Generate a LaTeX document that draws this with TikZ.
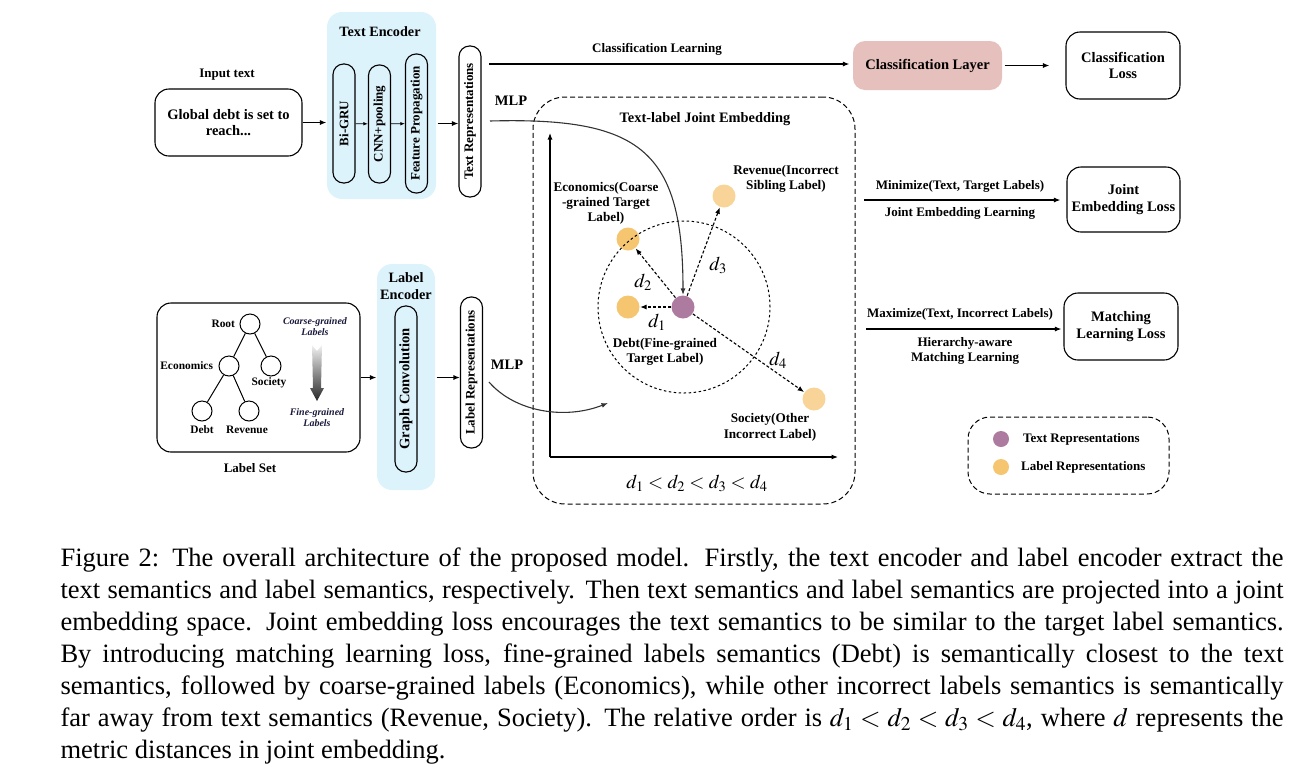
\RequirePackage{fix-cm}
\documentclass[tikz,border=0pt]{standalone}
\usepackage{mathptmx}
\usepackage{fontspec}
\setmainfont{Liberation Serif}
\usepackage{amsmath}
\usepackage{graphicx}
\usepackage{xcolor}
\usetikzlibrary{arrows.meta}
\usetikzlibrary{positioning}
\usetikzlibrary{calc}

\definecolor{encblue}{RGB}{221,243,251}
\definecolor{clspink}{RGB}{230,192,188}
\definecolor{txtpurple}{RGB}{173,122,160}
\definecolor{lblorange}{RGB}{245,197,112}
\definecolor{lbllight}{RGB}{249,212,152}
\definecolor{hintnavy}{RGB}{25,25,60}

\newcommand{\fs}[2]{\fontsize{#1}{#2}\selectfont}

\tikzstyle{box} = [draw, rounded corners=14pt, align=center, inner sep=2pt,
  font=\bfseries\fs{14.5}{16.5}]
\tikzstyle{pill} = [draw, rounded corners=10.5pt, minimum width=22pt,
  inner sep=0pt, font=\bfseries\fs{13}{15}]
\tikzstyle{encbg} = [fill=encblue, rounded corners=15pt, inner sep=0pt]
\tikzstyle{txt} = [align=center, inner sep=1pt, font=\bfseries\fs{13}{15}]
\tikzstyle{bigtxt} = [align=center, inner sep=1pt, font=\bfseries\fs{14.5}{17}]
\tikzstyle{treetxt} = [inner sep=1pt, font=\bfseries\fs{11.4}{13}]
\tikzstyle{hint} = [align=center, inner sep=0pt, text=hintnavy,
  font=\bfseries\itshape\fs{10}{11}]
\tikzstyle{leaf} = [circle, draw, line width=1pt, minimum size=20pt, inner sep=0pt]
\tikzstyle{dot} = [circle, minimum size=23pt, inner sep=0pt]
\tikzstyle{dlbl} = [inner sep=0pt, font=\fs{19.5}{21}]
\tikzstyle{dist} = [->, dash pattern=on 3pt off 2pt, line width=1.1pt]
\tikzstyle{frame} = [draw, dash pattern=on 5pt off 3pt, line width=1pt, inner sep=0pt]

\begin{document}
\begin{tikzpicture}[x=1pt, y=-1pt, >={Latex[length=6.5pt,width=5pt]}, line width=1.1pt]
  \useasboundingbox (0,0) rectangle (1315,772);

  % input text
  \node[txt]                                                (inlabel) at (227,75) {Input text};
  \node[box, minimum width=147pt, minimum height=67pt]      (input) at (228.5,122.5) {Global debt is set to\\reach...};
  % text encoder
  \node[encbg, minimum width=109pt, minimum height=187pt]   (txtenc) at (381.5,105.5) {};
  \node[bigtxt, font=\bfseries\fs{14.2}{17}]                (txtenctitle) at (380,32) {Text Encoder};
  \node[pill, minimum height=119pt]                         (bigru) at (344,123.5) {\rotatebox{90}{Bi-GRU}};
  \node[pill, minimum height=118pt]                         (cnn) at (379.5,124) {\rotatebox{90}{CNN+pooling}};
  \node[pill, minimum height=139pt]                         (featprop) at (416.5,123.5) {\rotatebox{90}{Feature Propagation}};
  \node[pill, minimum height=151pt]                         (textrep) at (470,121.5) {\rotatebox{90}{Text Representations}};

  % label set
  \node[box, minimum width=203pt, minimum height=149pt]     (labelset) at (258.5,377.5) {};
  \node[txt]                                                (labelsetlbl) at (250,468) {Label Set};
  \node[leaf] (root) at (250,324) {};
  \node[leaf] (econ) at (229,366) {};
  \node[leaf] (soc)  at (271,366) {};
  \node[leaf] (debt) at (202,411) {};
  \node[leaf] (rev)  at (249,411) {};
  \node[treetxt, left=3pt of root]                (rootlbl) {Root};
  \node[treetxt, left=4pt of econ]                (econlbl) {Economics};
  \node[treetxt, below=0pt of soc, xshift=-2pt]   (soclbl) {Society};
  \node[treetxt, below=3pt of debt]               (debtlbl) {Debt};
  \node[treetxt, below=3pt of rev, xshift=-2pt]   (revlbl) {Revenue};
  \foreach \a/\b in {root/econ, root/soc, econ/debt, econ/rev}
    \draw[line width=1pt] (\a) -- (\b);
  \node[hint] (coarse) at (315,327) {Coarse-grained\\Labels};
  \node[hint] (fine)   at (317,418) {Fine-grained\\Labels};
  \shade[top color=gray!10, bottom color=black!85]
    (312,345) -- (317,351) -- (322,345) -- (321,388) -- (324,388)
    -- (317,401) -- (310,388) -- (313,388) -- cycle;

  % label encoder
  \node[encbg, minimum width=58pt, minimum height=226pt]    (lblenc) at (406,377) {};
  \node[bigtxt, font=\bfseries\fs{14.3}{17}]                (lblenctitle) at (406,286.5) {Label\\Encoder};
  \node[pill, minimum height=166pt]                         (graphconv) at (406,389) {\rotatebox{90}{\fs{14.5}{16}Graph Convolution}};
  \node[pill, minimum height=151pt]                         (labelrep) at (471.5,372.5) {\rotatebox{90}{Label Representations}};

  % joint embedding
  \node[frame, rounded corners=32pt, minimum width=322pt, minimum height=407pt] (jebox) at (694,300.5) {};
  \node[bigtxt, font=\bfseries\fs{14.4}{17}]                (jetitle) at (705,119) {Text-label Joint Embedding};
  \coordinate (origin) at (550,457);
  \coordinate (ytop)   at (550,133);
  \coordinate (xend)   at (838,457);
  \draw[->] (origin) -- (ytop);
  \draw[->] (origin) -- (xend);
  \node[dot, fill=txtpurple]  (txtdot)  at (683,307) {};
  \node[dot, fill=lblorange]  (debtdot) at (628,307) {};
  \node[dot, fill=lblorange]  (econdot) at (628,239) {};
  \node[dot, fill=lbllight]   (revdot)  at (724,196) {};
  \node[dot, fill=lbllight]   (socdot)  at (814,399) {};
  \node[circle, draw, line width=1pt, dash pattern=on 2.5pt off 2.5pt,
        minimum size=172pt, inner sep=0pt]                  (nearzone) at (684,307) {};
  \foreach \t in {debtdot, econdot, revdot, socdot}
    \draw[dist] (txtdot) -- (\t);
  \node[dlbl] (d1) at (657,322) {$d_1$};
  \node[dlbl] (d2) at (643,282) {$d_2$};
  \node[dlbl] (d3) at (718,265) {$d_3$};
  \node[dlbl] (d4) at (778,360) {$d_4$};
  \node[txt, font=\bfseries\fs{13.2}{15}] (econtxt) at (606,203) {Economics(Coarse\\-grained Target\\Label)};
  \node[txt, font=\bfseries\fs{13.2}{14.5}] (revtxt) at (786,179) {Revenue(Incorrect\\Sibling Label)};
  \node[txt, font=\bfseries\fs{13.2}{15}] (debttxt) at (665,352) {Debt(Fine-grained\\Target Label)};
  \node[txt, font=\bfseries\fs{13.2}{16}] (soctxt) at (770,427) {Society(Other\\Incorrect Label)};
  \node[dlbl] (order) at (697,483) {$d_1 < d_2 < d_3 < d_4$};

  % MLP projections
  \node[bigtxt] (mlptop) at (511,101) {MLP};
  \node[bigtxt] (mlpbot) at (507,365) {MLP};
  \coordinate (txtproj) at (490,121);
  \coordinate (lblproj) at (489,382);
  \coordinate (lblhit)  at (608,403);
  \draw[->, line width=1.1pt, black!80] (txtproj) .. controls (640,117) and (683,150) .. (txtdot.north);
  \draw[->, line width=1.1pt, black!80] (lblproj) .. controls (515,412) and (565,420) .. (lblhit);

  % classification branch
  \node[box, draw=none, fill=clspink, rounded corners=12pt,
        minimum width=149pt, minimum height=49pt]           (clslayer) at (927.5,65.5) {Classification Layer};
  \node[box, minimum width=114pt, minimum height=67pt]      (clsloss) at (1123,65.5) {Classification\\Loss};
  \node[txt] (clstxt) at (657,49) {Classification Learning};
  \coordinate (clsstart) at (489,64);
  \draw[->] (clsstart) -- ($(clslayer.west |- clsstart)+(-3,0)$);
  \draw[->, shorten <=2pt, shorten >=16pt] (clslayer.east) -- (clsloss.west);

  % joint embedding loss
  \node[box, minimum width=113pt, minimum height=65pt]      (jeloss) at (1123.5,199.5) {Joint\\Embedding Loss};
  \coordinate (minstart) at (864,200);
  \draw[->, shorten >=6pt] (minstart) -- (jeloss.west |- minstart);
  \node[txt] (mintxt) at (960,186) {Minimize(Text, Target Labels)};
  \node[txt] (jetxt)  at (960,213) {Joint Embedding Learning};

  % matching loss
  \node[box, minimum width=114pt, minimum height=67pt]      (mloss) at (1121,326.5) {Matching\\Learning Loss};
  \coordinate (maxstart) at (866,329);
  \draw[->, shorten >=2pt] (maxstart) -- (mloss.west |- maxstart);
  \node[txt] (maxtxt) at (960,314) {Maximize(Text, Incorrect Labels)};
  \node[txt] (hmtxt)  at (965,350.5) {Hierarchy-aware\\Matching Learning};

  % encoder arrows
  \draw[->] (input.east) -- (input.east -| txtenc.west);
  \draw[-{Latex[length=4.5pt,width=3.5pt]}, line width=0.8pt] (bigru) -- (cnn);
  \draw[-{Latex[length=4.5pt,width=3.5pt]}, line width=0.8pt] (cnn) -- (featprop);
  \draw[->, shorten <=1pt] (txtenc.east |- featprop.east) -- (textrep.west |- featprop.east);
  \draw[->] (labelset.east) -- (lblenc.west |- labelset.east);
  \draw[->, shorten <=1pt] (lblenc.east |- labelset.east) -- (labelrep.west |- labelset.east);

  % legend
  \node[frame, rounded corners=22pt, minimum width=201pt, minimum height=77pt] (legend) at (1068.5,455.5) {};
  \node[dot, minimum size=16pt, fill=txtpurple] (legtxt) at (1001,439) {};
  \node[dot, minimum size=16pt, fill=lblorange] (leglbl) at (1001,467) {};
  \node[txt, right=12pt of legtxt] (legtxtlbl) {Text Representations};
  \node[txt, right=10pt of leglbl] (leglbllbl) {Label Representations};

  % caption
  \node[anchor=north west, inner sep=0pt, text width=1223pt, align=justify,
        font=\fs{26.5}{32}] (caption) at (60,547) {Figure 2: The overall architecture of the proposed model. Firstly, the text encoder and label encoder extract the\linebreak
    text semantics and label semantics, respectively. Then text semantics and label semantics are projected into a joint\linebreak
    embedding space. Joint embedding loss encourages the text semantics to be similar to the target label semantics.\linebreak
    By introducing matching learning loss, fine-grained labels semantics (Debt) is semantically closest to the text\linebreak
    semantics, followed by coarse-grained labels (Economics), while other incorrect labels semantics is semantically\linebreak
    far away from text semantics (Revenue, Society). The relative order is $d_1 < d_2 < d_3 < d_4$, where $d$ represents the\linebreak
    metric distances in joint embedding.};
\end{tikzpicture}
\end{document}
